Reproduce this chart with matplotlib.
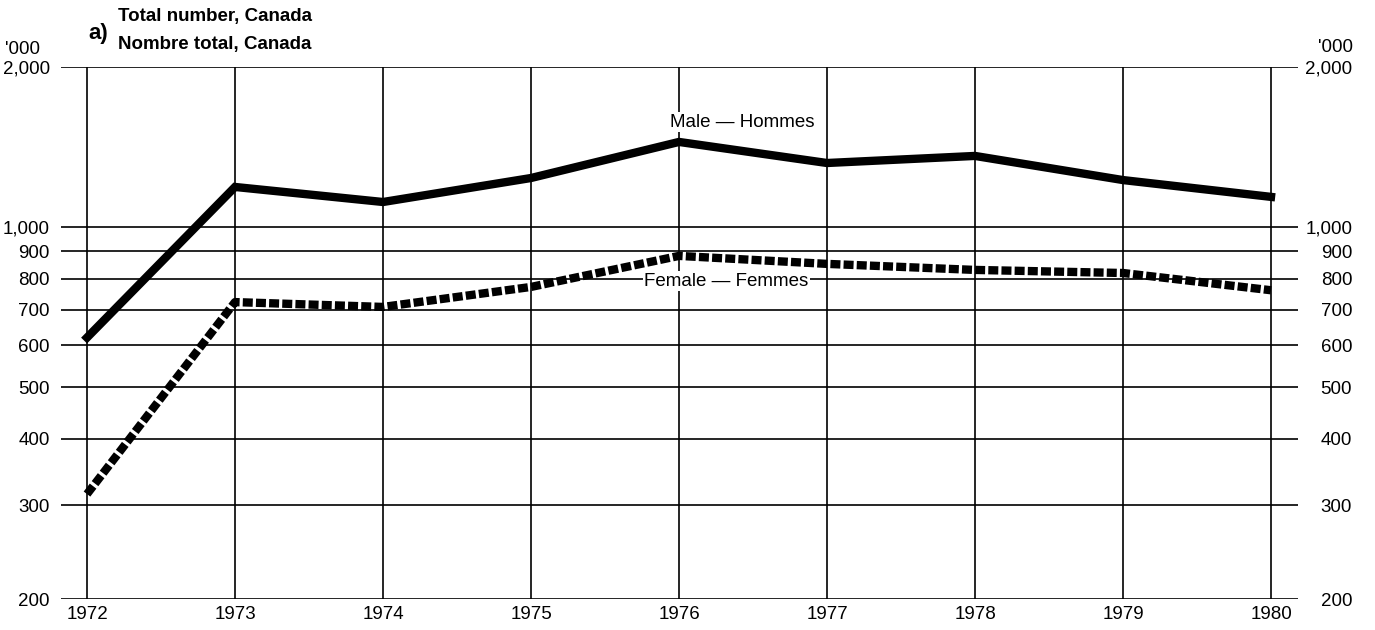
import matplotlib.pyplot as plt
import numpy as np

plt.rcParams['font.family'] = ['Liberation Sans', 'DejaVu Sans']

years = [1972, 1973, 1974, 1975, 1976, 1977, 1978, 1979, 1980]
male = [620, 1190, 1115, 1237, 1446, 1320, 1361, 1226, 1140]
female = [315, 723, 708, 772, 883, 853, 831, 820, 761]
yticks = [200, 300, 400, 500, 600, 700, 800, 900, 1000, 2000]
ylabels = ['200', '300', '400', '500', '600', '700', '800', '900', '1,000', '2,000']

W, H = 1375, 630
fs = 13.5
fig = plt.figure(figsize=(W / 100, H / 100), dpi=100)
ax = fig.add_axes([61 / W, 1 - 599 / H, (1298 - 61) / W, (599 - 67) / H])

ax.set_yscale('log')
ax.set_ylim(200, 2000)
ax.set_xlim(1972 - 26 / 148, 1980 + 27 / 148)

# gitter
for v in yticks:
    ax.axhline(v, color='black', lw=1.2, zorder=1)
ax.vlines(years, 200, 2000, color='black', lw=1.2, zorder=1)

ax.plot(years, male, color='black', lw=6, solid_joinstyle='miter', zorder=3)
ax.plot(years, female, color='black', lw=6, linestyle=(0, (1.2, 0.38)),
        dash_capstyle='butt', zorder=3)

for s in ax.spines.values():
    s.set_visible(False)

ax.set_xticks(years)
ax.set_xticklabels([str(y) for y in years], fontsize=fs)
ax.tick_params(axis='x', length=0, pad=5)
ax.set_yticks(yticks)
ax.set_yticklabels(ylabels, fontsize=fs)
ax.yaxis.set_minor_locator(plt.NullLocator())
ax.tick_params(axis='y', length=0, pad=8)

ax2 = ax.twinx()
ax2.set_yscale('log')
ax2.set_ylim(200, 2000)
ax2.set_yticks(yticks)
ax2.set_yticklabels(ylabels, fontsize=fs)
ax2.yaxis.set_minor_locator(plt.NullLocator())
ax2.tick_params(axis='y', length=0, pad=39)
for t in ax2.yaxis.get_major_ticks():
    t.label2.set_horizontalalignment('right')
for s in ax2.spines.values():
    s.set_visible(False)

ax.text(1976.43, 1576, 'Male \u2014 Hommes', fontsize=fs, ha='center', va='center',
        bbox=dict(facecolor='white', edgecolor='none', pad=1), zorder=4)
ax.text(1976.32, 792, 'Female \u2014 Femmes', fontsize=fs, ha='center', va='center',
        bbox=dict(facecolor='white', edgecolor='none', pad=1), zorder=4)

fig.text(5 / W, 1 - 50 / H, "'000", fontsize=fs, ha='left', va='center')
fig.text(1353 / W, 1 - 47 / H, "'000", fontsize=fs, ha='right', va='center')
fig.text(88 / W, 1 - 33 / H, 'a)', fontsize=16, fontweight='bold', ha='left', va='center')
fig.text(118 / W, 1 - 17 / H, 'Total number, Canada', fontsize=fs, fontweight='bold',
         ha='left', va='center')
fig.text(118 / W, 1 - 44 / H, 'Nombre total, Canada', fontsize=fs, fontweight='bold',
         ha='left', va='center')

fig.savefig('out.png', dpi=100)
